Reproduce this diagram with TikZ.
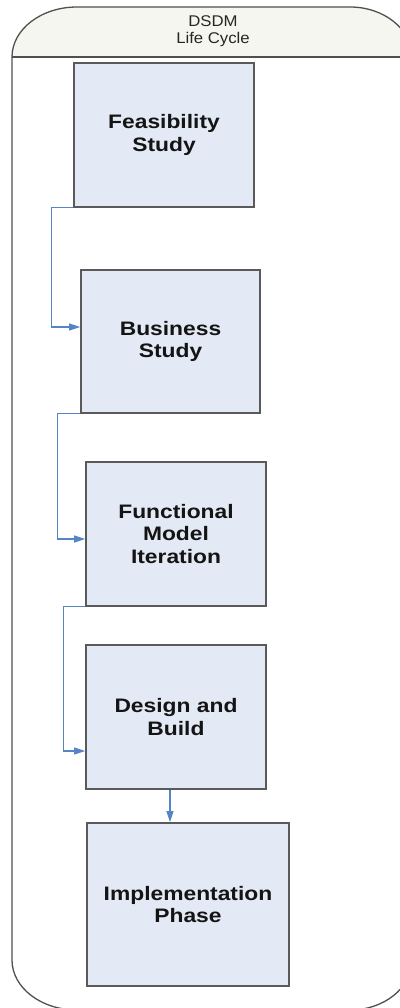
\documentclass[tikz,border=0pt]{standalone}
\usepackage{fontspec}
\setmainfont{Liberation Sans}
\newfontfamily\boxfont[FakeStretch=1.17]{Liberation Sans}
\newfontfamily\headfont[FakeStretch=1.08]{Liberation Sans}
\usetikzlibrary{arrows.meta}
\definecolor{boxfill}{HTML}{E4EAF5}
\definecolor{boxline}{HTML}{5A5A5A}
\definecolor{connblue}{HTML}{5585C4}
\definecolor{headfill}{HTML}{F6F6F1}
\definecolor{outline}{HTML}{505050}
\tikzset{
  stagebox/.style={draw=boxline, line width=1.8pt, fill=boxfill, align=center,
    font=\boxfont\bfseries\fontsize{19.5}{22.7}\selectfont, text=black!92, inner sep=0pt},
  conn/.style={draw=connblue, line width=1.1pt, -{Triangle[length=11pt,width=7pt]}},
}
\begin{document}
\begin{tikzpicture}[x=1pt,y=-1pt]
\useasboundingbox (0,0) rectangle (399,1008);
% header fill
\fill[headfill] (12,57) -- (412,57) .. controls (412,29.4) and (384.2,7) .. (350,7) -- (77,7) .. controls (41.1,7) and (12,29.4) .. (12,57) -- cycle;
% outer frame
\draw[outline, line width=1.3pt] (12,57) -- (12,960) .. controls (12,987.6) and (41.1,1010) .. (77,1010) -- (350,1010) .. controls (384.2,1010) and (412,987.6) .. (412,960) -- (412,57) .. controls (412,29.4) and (384.2,7) .. (350,7) -- (77,7) .. controls (41.1,7) and (12,29.4) .. (12,57) -- cycle;
\draw[outline, line width=1.3pt] (12,57) -- (412,57);
\node[align=center, font=\headfont\fontsize{15.5}{17}\selectfont, text=black!85] (title) at (213,31.5) {DSDM\\Life Cycle};
% stages
\node[stagebox, minimum width=180pt, minimum height=144pt] (b1) at (164,135) {Feasibility\\Study};
\node[stagebox, minimum width=179pt, minimum height=143pt] (b2) at (170.5,341.5) {Business\\Study};
\node[stagebox, minimum width=180pt, minimum height=144pt] (b3) at (176,534) {Functional\\Model\\Iteration};
\node[stagebox, minimum width=180pt, minimum height=144pt] (b4) at (176,717) {Design and\\Build};
\node[stagebox, minimum width=202pt, minimum height=163pt] (b5) at (188,904.5) {Implementation\\Phase};
% connectors
\draw[conn] (b1.south west) -- ++(-22,0) |- ([yshift=14.5pt]b2.west);
\draw[conn] (b2.south west) -- ++(-23,0) |- ([yshift=-5pt]b3.west);
\draw[conn] (b3.south west) -- ++(-22,0) |- ([yshift=-34pt]b4.west);
\draw[conn] ([xshift=-6pt]b4.south) -- ([xshift=-6pt]b4.south |- b5.north);
\end{tikzpicture}
\end{document}
